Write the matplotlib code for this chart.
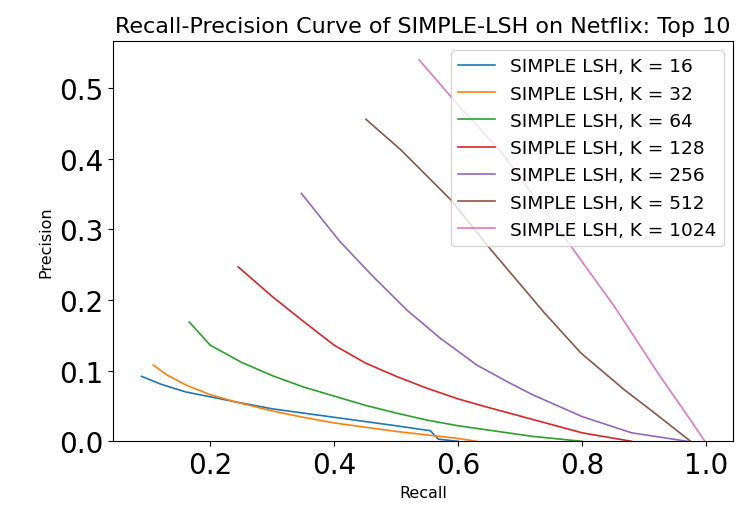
import numpy as np
import matplotlib
matplotlib.use("Agg")
import matplotlib.pyplot as plt

# recall / precision pairs for each hash length K
k_values = [16, 32, 64, 128, 256, 512, 1024]

recall_16 = [0.089, 0.12, 0.16, 0.20, 0.24, 0.30, 0.35, 0.40, 0.45, 0.50, 0.555, 0.568, 0.60]
prec_16 = [0.092, 0.081, 0.070, 0.063, 0.056, 0.046, 0.040, 0.034, 0.028, 0.022, 0.015, 0.003, 0.0]

recall_32 = [0.108, 0.13, 0.16, 0.20, 0.24, 0.30, 0.35, 0.40, 0.45, 0.50, 0.55, 0.60, 0.63]
prec_32 = [0.108, 0.094, 0.080, 0.066, 0.056, 0.043, 0.034, 0.026, 0.020, 0.014, 0.009, 0.004, 0.0]

recall_64 = [0.166, 0.20, 0.25, 0.30, 0.35, 0.40, 0.45, 0.50, 0.55, 0.60, 0.64, 0.72, 0.80]
prec_64 = [0.169, 0.136, 0.112, 0.093, 0.077, 0.064, 0.051, 0.040, 0.030, 0.022, 0.017, 0.007, 0.0]

recall_128 = [0.245, 0.30, 0.35, 0.40, 0.45, 0.50, 0.55, 0.60, 0.64, 0.72, 0.80, 0.88]
prec_128 = [0.247, 0.205, 0.170, 0.136, 0.111, 0.092, 0.075, 0.060, 0.050, 0.031, 0.012, 0.0]

recall_256 = [0.347, 0.409, 0.463, 0.517, 0.571, 0.630, 0.68, 0.72, 0.80, 0.88, 0.97]
prec_256 = [0.351, 0.283, 0.233, 0.186, 0.146, 0.108, 0.084, 0.066, 0.035, 0.012, 0.0]

recall_512 = [0.451, 0.507, 0.588, 0.653, 0.739, 0.798, 0.868, 0.917, 0.975]
prec_512 = [0.456, 0.413, 0.342, 0.271, 0.182, 0.125, 0.073, 0.040, 0.0]

recall_1024 = [0.537, 0.60, 0.669, 0.782, 0.852, 0.922, 0.971, 0.998]
prec_1024 = [0.540, 0.476, 0.410, 0.276, 0.191, 0.097, 0.035, 0.0]

recalls = [recall_16, recall_32, recall_64, recall_128, recall_256, recall_512, recall_1024]
precisions = [prec_16, prec_32, prec_64, prec_128, prec_256, prec_512, prec_1024]

fig = plt.figure(figsize=(7.48, 5.10), dpi=100)
ax = fig.add_axes([0.1515, 0.1327, 0.8285, 0.7853])

for k, r, p in zip(k_values, recalls, precisions):
    ax.plot(r, p, lw=1.2, label='SIMPLE LSH, K = %d' % k)

ax.set_ylim(bottom=0)
ax.set_xticks([0.2, 0.4, 0.6, 0.8, 1.0])
ax.tick_params(labelsize=20)
ax.set_xlabel('Recall', fontsize=11.5)
ax.set_ylabel('Precision', fontsize=11.5)
ax.set_title('Recall-Precision Curve of SIMPLE-LSH on Netflix: Top 10', fontsize=16)
ax.legend(loc='upper right', fontsize=13.3)

plt.savefig('out.png', dpi=100)
